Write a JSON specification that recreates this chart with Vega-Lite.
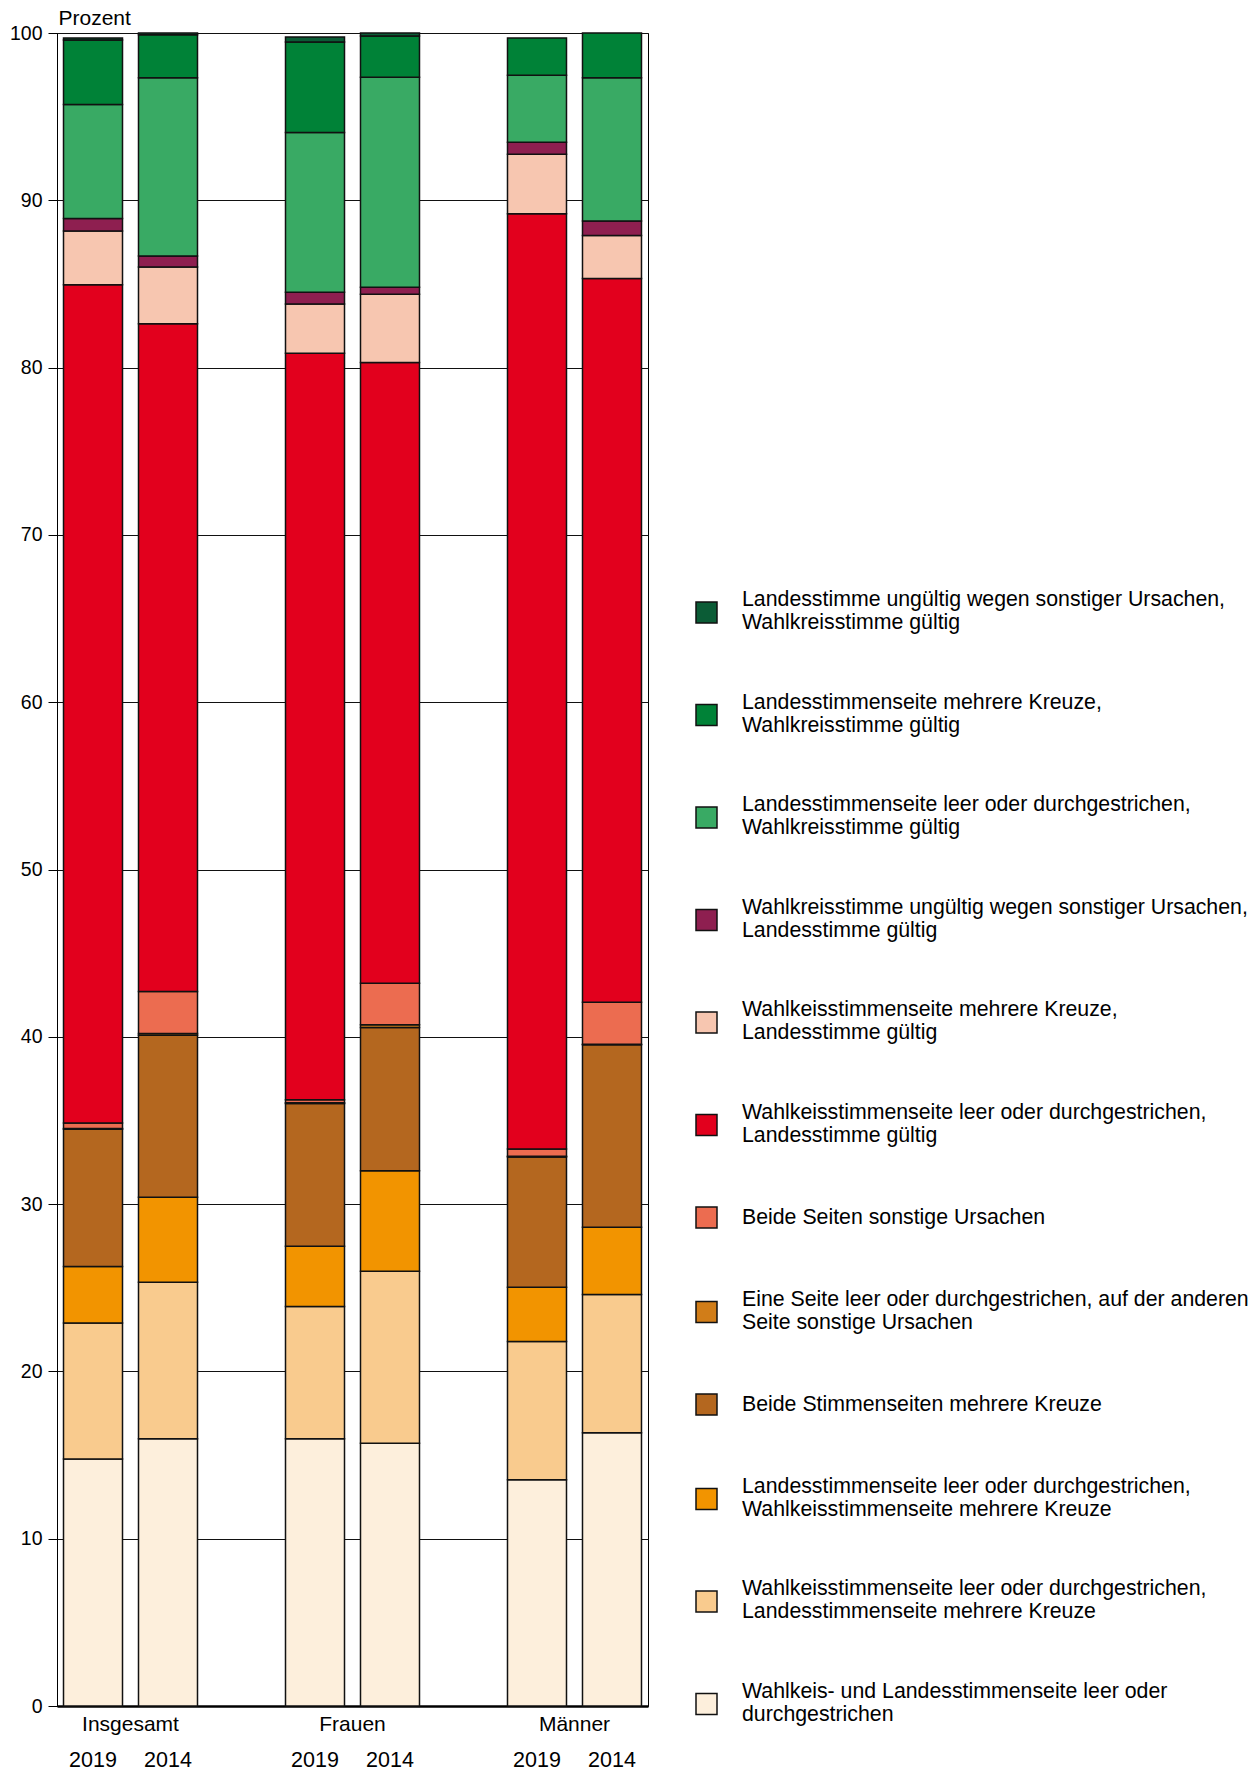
{
  "$schema": "https://vega.github.io/schema/vega-lite/v6.json",
  "autosize": {"type": "none"},
  "padding": {"left": 57, "top": 33, "right": 611, "bottom": 65},
  "width": 591,
  "height": 1673,
  "background": "white",
  "config": {
    "font": "Liberation Sans",
    "view": {"stroke": "#000", "strokeWidth": 1}
  },
  "datasets": {
    "werte": [
      {"Gruppe": "Insgesamt", "Jahr": "2019", "Stufe": 1, "Art": "Wahlkeis- und Landesstimmenseite leer oder durchgestrichen", "Prozent": 14.77},
      {"Gruppe": "Insgesamt", "Jahr": "2019", "Stufe": 2, "Art": "Wahlkeisstimmenseite leer oder durchgestrichen, Landesstimmenseite mehrere Kreuze", "Prozent": 8.12},
      {"Gruppe": "Insgesamt", "Jahr": "2019", "Stufe": 3, "Art": "Landesstimmenseite leer oder durchgestrichen, Wahlkeisstimmenseite mehrere Kreuze", "Prozent": 3.38},
      {"Gruppe": "Insgesamt", "Jahr": "2019", "Stufe": 4, "Art": "Beide Stimmenseiten mehrere Kreuze", "Prozent": 8.2},
      {"Gruppe": "Insgesamt", "Jahr": "2019", "Stufe": 5, "Art": "Eine Seite leer oder durchgestrichen, auf der anderen Seite sonstige Ursachen", "Prozent": 0.05},
      {"Gruppe": "Insgesamt", "Jahr": "2019", "Stufe": 6, "Art": "Beide Seiten sonstige Ursachen", "Prozent": 0.33},
      {"Gruppe": "Insgesamt", "Jahr": "2019", "Stufe": 7, "Art": "Wahlkeisstimmenseite leer oder durchgestrichen, Landesstimme gültig", "Prozent": 50.1},
      {"Gruppe": "Insgesamt", "Jahr": "2019", "Stufe": 8, "Art": "Wahlkeisstimmenseite mehrere Kreuze, Landesstimme gültig", "Prozent": 3.22},
      {"Gruppe": "Insgesamt", "Jahr": "2019", "Stufe": 9, "Art": "Wahlkreisstimme ungültig wegen sonstiger Ursachen, Landesstimme gültig", "Prozent": 0.74},
      {"Gruppe": "Insgesamt", "Jahr": "2019", "Stufe": 10, "Art": "Landesstimmenseite leer oder durchgestrichen, Wahlkreisstimme gültig", "Prozent": 6.82},
      {"Gruppe": "Insgesamt", "Jahr": "2019", "Stufe": 11, "Art": "Landesstimmenseite mehrere Kreuze, Wahlkreisstimme gültig", "Prozent": 3.85},
      {"Gruppe": "Insgesamt", "Jahr": "2019", "Stufe": 12, "Art": "Landesstimme ungültig wegen sonstiger Ursachen, Wahlkreisstimme gültig", "Prozent": 0.12},

      {"Gruppe": "Insgesamt", "Jahr": "2014", "Stufe": 1, "Art": "Wahlkeis- und Landesstimmenseite leer oder durchgestrichen", "Prozent": 15.97},
      {"Gruppe": "Insgesamt", "Jahr": "2014", "Stufe": 2, "Art": "Wahlkeisstimmenseite leer oder durchgestrichen, Landesstimmenseite mehrere Kreuze", "Prozent": 9.36},
      {"Gruppe": "Insgesamt", "Jahr": "2014", "Stufe": 3, "Art": "Landesstimmenseite leer oder durchgestrichen, Wahlkeisstimmenseite mehrere Kreuze", "Prozent": 5.08},
      {"Gruppe": "Insgesamt", "Jahr": "2014", "Stufe": 4, "Art": "Beide Stimmenseiten mehrere Kreuze", "Prozent": 9.69},
      {"Gruppe": "Insgesamt", "Jahr": "2014", "Stufe": 5, "Art": "Eine Seite leer oder durchgestrichen, auf der anderen Seite sonstige Ursachen", "Prozent": 0.1},
      {"Gruppe": "Insgesamt", "Jahr": "2014", "Stufe": 6, "Art": "Beide Seiten sonstige Ursachen", "Prozent": 2.51},
      {"Gruppe": "Insgesamt", "Jahr": "2014", "Stufe": 7, "Art": "Wahlkeisstimmenseite leer oder durchgestrichen, Landesstimme gültig", "Prozent": 39.91},
      {"Gruppe": "Insgesamt", "Jahr": "2014", "Stufe": 8, "Art": "Wahlkeisstimmenseite mehrere Kreuze, Landesstimme gültig", "Prozent": 3.39},
      {"Gruppe": "Insgesamt", "Jahr": "2014", "Stufe": 9, "Art": "Wahlkreisstimme ungültig wegen sonstiger Ursachen, Landesstimme gültig", "Prozent": 0.66},
      {"Gruppe": "Insgesamt", "Jahr": "2014", "Stufe": 10, "Art": "Landesstimmenseite leer oder durchgestrichen, Wahlkreisstimme gültig", "Prozent": 10.65},
      {"Gruppe": "Insgesamt", "Jahr": "2014", "Stufe": 11, "Art": "Landesstimmenseite mehrere Kreuze, Wahlkreisstimme gültig", "Prozent": 2.58},
      {"Gruppe": "Insgesamt", "Jahr": "2014", "Stufe": 12, "Art": "Landesstimme ungültig wegen sonstiger Ursachen, Wahlkreisstimme gültig", "Prozent": 0.1},

      {"Gruppe": "Frauen", "Jahr": "2019", "Stufe": 1, "Art": "Wahlkeis- und Landesstimmenseite leer oder durchgestrichen", "Prozent": 15.97},
      {"Gruppe": "Frauen", "Jahr": "2019", "Stufe": 2, "Art": "Wahlkeisstimmenseite leer oder durchgestrichen, Landesstimmenseite mehrere Kreuze", "Prozent": 7.91},
      {"Gruppe": "Frauen", "Jahr": "2019", "Stufe": 3, "Art": "Landesstimmenseite leer oder durchgestrichen, Wahlkeisstimmenseite mehrere Kreuze", "Prozent": 3.6},
      {"Gruppe": "Frauen", "Jahr": "2019", "Stufe": 4, "Art": "Beide Stimmenseiten mehrere Kreuze", "Prozent": 8.54},
      {"Gruppe": "Frauen", "Jahr": "2019", "Stufe": 5, "Art": "Eine Seite leer oder durchgestrichen, auf der anderen Seite sonstige Ursachen", "Prozent": 0.04},
      {"Gruppe": "Frauen", "Jahr": "2019", "Stufe": 6, "Art": "Beide Seiten sonstige Ursachen", "Prozent": 0.18},
      {"Gruppe": "Frauen", "Jahr": "2019", "Stufe": 7, "Art": "Wahlkeisstimmenseite leer oder durchgestrichen, Landesstimme gültig", "Prozent": 44.62},
      {"Gruppe": "Frauen", "Jahr": "2019", "Stufe": 8, "Art": "Wahlkeisstimmenseite mehrere Kreuze, Landesstimme gültig", "Prozent": 2.94},
      {"Gruppe": "Frauen", "Jahr": "2019", "Stufe": 9, "Art": "Wahlkreisstimme ungültig wegen sonstiger Ursachen, Landesstimme gültig", "Prozent": 0.7},
      {"Gruppe": "Frauen", "Jahr": "2019", "Stufe": 10, "Art": "Landesstimmenseite leer oder durchgestrichen, Wahlkreisstimme gültig", "Prozent": 9.55},
      {"Gruppe": "Frauen", "Jahr": "2019", "Stufe": 11, "Art": "Landesstimmenseite mehrere Kreuze, Wahlkreisstimme gültig", "Prozent": 5.41},
      {"Gruppe": "Frauen", "Jahr": "2019", "Stufe": 12, "Art": "Landesstimme ungültig wegen sonstiger Ursachen, Wahlkreisstimme gültig", "Prozent": 0.3},

      {"Gruppe": "Frauen", "Jahr": "2014", "Stufe": 1, "Art": "Wahlkeis- und Landesstimmenseite leer oder durchgestrichen", "Prozent": 15.71},
      {"Gruppe": "Frauen", "Jahr": "2014", "Stufe": 2, "Art": "Wahlkeisstimmenseite leer oder durchgestrichen, Landesstimmenseite mehrere Kreuze", "Prozent": 10.28},
      {"Gruppe": "Frauen", "Jahr": "2014", "Stufe": 3, "Art": "Landesstimmenseite leer oder durchgestrichen, Wahlkeisstimmenseite mehrere Kreuze", "Prozent": 6.01},
      {"Gruppe": "Frauen", "Jahr": "2014", "Stufe": 4, "Art": "Beide Stimmenseiten mehrere Kreuze", "Prozent": 8.56},
      {"Gruppe": "Frauen", "Jahr": "2014", "Stufe": 5, "Art": "Eine Seite leer oder durchgestrichen, auf der anderen Seite sonstige Ursachen", "Prozent": 0.16},
      {"Gruppe": "Frauen", "Jahr": "2014", "Stufe": 6, "Art": "Beide Seiten sonstige Ursachen", "Prozent": 2.48},
      {"Gruppe": "Frauen", "Jahr": "2014", "Stufe": 7, "Art": "Wahlkeisstimmenseite leer oder durchgestrichen, Landesstimme gültig", "Prozent": 37.1},
      {"Gruppe": "Frauen", "Jahr": "2014", "Stufe": 8, "Art": "Wahlkeisstimmenseite mehrere Kreuze, Landesstimme gültig", "Prozent": 4.08},
      {"Gruppe": "Frauen", "Jahr": "2014", "Stufe": 9, "Art": "Wahlkreisstimme ungültig wegen sonstiger Ursachen, Landesstimme gültig", "Prozent": 0.42},
      {"Gruppe": "Frauen", "Jahr": "2014", "Stufe": 10, "Art": "Landesstimmenseite leer oder durchgestrichen, Wahlkreisstimme gültig", "Prozent": 12.56},
      {"Gruppe": "Frauen", "Jahr": "2014", "Stufe": 11, "Art": "Landesstimmenseite mehrere Kreuze, Wahlkreisstimme gültig", "Prozent": 2.46},
      {"Gruppe": "Frauen", "Jahr": "2014", "Stufe": 12, "Art": "Landesstimme ungültig wegen sonstiger Ursachen, Wahlkreisstimme gültig", "Prozent": 0.18},

      {"Gruppe": "Männer", "Jahr": "2019", "Stufe": 1, "Art": "Wahlkeis- und Landesstimmenseite leer oder durchgestrichen", "Prozent": 13.53},
      {"Gruppe": "Männer", "Jahr": "2019", "Stufe": 2, "Art": "Wahlkeisstimmenseite leer oder durchgestrichen, Landesstimmenseite mehrere Kreuze", "Prozent": 8.26},
      {"Gruppe": "Männer", "Jahr": "2019", "Stufe": 3, "Art": "Landesstimmenseite leer oder durchgestrichen, Wahlkeisstimmenseite mehrere Kreuze", "Prozent": 3.24},
      {"Gruppe": "Männer", "Jahr": "2019", "Stufe": 4, "Art": "Beide Stimmenseiten mehrere Kreuze", "Prozent": 7.79},
      {"Gruppe": "Männer", "Jahr": "2019", "Stufe": 5, "Art": "Eine Seite leer oder durchgestrichen, auf der anderen Seite sonstige Ursachen", "Prozent": 0.04},
      {"Gruppe": "Männer", "Jahr": "2019", "Stufe": 6, "Art": "Beide Seiten sonstige Ursachen", "Prozent": 0.43},
      {"Gruppe": "Männer", "Jahr": "2019", "Stufe": 7, "Art": "Wahlkeisstimmenseite leer oder durchgestrichen, Landesstimme gültig", "Prozent": 55.91},
      {"Gruppe": "Männer", "Jahr": "2019", "Stufe": 8, "Art": "Wahlkeisstimmenseite mehrere Kreuze, Landesstimme gültig", "Prozent": 3.56},
      {"Gruppe": "Männer", "Jahr": "2019", "Stufe": 9, "Art": "Wahlkreisstimme ungültig wegen sonstiger Ursachen, Landesstimme gültig", "Prozent": 0.71},
      {"Gruppe": "Männer", "Jahr": "2019", "Stufe": 10, "Art": "Landesstimmenseite leer oder durchgestrichen, Wahlkreisstimme gültig", "Prozent": 4.01},
      {"Gruppe": "Männer", "Jahr": "2019", "Stufe": 11, "Art": "Landesstimmenseite mehrere Kreuze, Wahlkreisstimme gültig", "Prozent": 2.22},

      {"Gruppe": "Männer", "Jahr": "2014", "Stufe": 1, "Art": "Wahlkeis- und Landesstimmenseite leer oder durchgestrichen", "Prozent": 16.33},
      {"Gruppe": "Männer", "Jahr": "2014", "Stufe": 2, "Art": "Wahlkeisstimmenseite leer oder durchgestrichen, Landesstimmenseite mehrere Kreuze", "Prozent": 8.27},
      {"Gruppe": "Männer", "Jahr": "2014", "Stufe": 3, "Art": "Landesstimmenseite leer oder durchgestrichen, Wahlkeisstimmenseite mehrere Kreuze", "Prozent": 4.02},
      {"Gruppe": "Männer", "Jahr": "2014", "Stufe": 4, "Art": "Beide Stimmenseiten mehrere Kreuze", "Prozent": 10.9},
      {"Gruppe": "Männer", "Jahr": "2014", "Stufe": 5, "Art": "Eine Seite leer oder durchgestrichen, auf der anderen Seite sonstige Ursachen", "Prozent": 0.03},
      {"Gruppe": "Männer", "Jahr": "2014", "Stufe": 6, "Art": "Beide Seiten sonstige Ursachen", "Prozent": 2.52},
      {"Gruppe": "Männer", "Jahr": "2014", "Stufe": 7, "Art": "Wahlkeisstimmenseite leer oder durchgestrichen, Landesstimme gültig", "Prozent": 43.25},
      {"Gruppe": "Männer", "Jahr": "2014", "Stufe": 8, "Art": "Wahlkeisstimmenseite mehrere Kreuze, Landesstimme gültig", "Prozent": 2.58},
      {"Gruppe": "Männer", "Jahr": "2014", "Stufe": 9, "Art": "Wahlkreisstimme ungültig wegen sonstiger Ursachen, Landesstimme gültig", "Prozent": 0.87},
      {"Gruppe": "Männer", "Jahr": "2014", "Stufe": 10, "Art": "Landesstimmenseite leer oder durchgestrichen, Wahlkreisstimme gültig", "Prozent": 8.55},
      {"Gruppe": "Männer", "Jahr": "2014", "Stufe": 11, "Art": "Landesstimmenseite mehrere Kreuze, Wahlkreisstimme gültig", "Prozent": 2.68}
    ],
    "jahre": [
      {"Gruppe": "Insgesamt", "Jahr": "2019"},
      {"Gruppe": "Insgesamt", "Jahr": "2014"},
      {"Gruppe": "Frauen", "Jahr": "2019"},
      {"Gruppe": "Frauen", "Jahr": "2014"},
      {"Gruppe": "Männer", "Jahr": "2019"},
      {"Gruppe": "Männer", "Jahr": "2014"}
    ]
  },
  "layer": [
    {
      "data": {"name": "werte"},
      "mark": {"type": "bar", "stroke": "#111", "strokeWidth": 1.5},
      "encoding": {
        "x": {
          "field": "Gruppe", "type": "nominal",
          "sort": ["Insgesamt", "Frauen", "Männer"],
          "scale": {"paddingInner": 0.3964, "paddingOuter": 0.0293},
          "axis": {"title": null, "ticks": false, "labelAngle": 0, "domainWidth": 2.5, "domainColor": "#000", "labelFontSize": 21, "labelColor": "#000", "labelPadding": 7, "grid": false}
        },
        "xOffset": {
          "field": "Jahr", "type": "nominal",
          "sort": ["2019", "2014"],
          "scale": {"paddingInner": 0.2133, "paddingOuter": 0}
        },
        "y": {
          "field": "Prozent", "type": "quantitative", "stack": "zero",
          "scale": {"domain": [0, 100], "nice": false},
          "axis": {
            "title": "Prozent", "titleAngle": 0, "titleAlign": "left", "titleBaseline": "alphabetic",
            "titleX": 1, "titleY": -9, "titleFontSize": 21, "titleFontWeight": "normal", "titleColor": "#000",
            "values": [0, 10, 20, 30, 40, 50, 60, 70, 80, 90, 100],
            "labelFontSize": 19.5, "labelColor": "#000", "labelPadding": 6,
            "tickSize": 9, "tickColor": "#000", "domainColor": "#000",
            "grid": true, "gridColor": "#111", "gridWidth": 1
          }
        },
        "color": {
          "field": "Art", "type": "nominal",
          "scale": {
            "domain": [
              "Landesstimme ungültig wegen sonstiger Ursachen, Wahlkreisstimme gültig",
              "Landesstimmenseite mehrere Kreuze, Wahlkreisstimme gültig",
              "Landesstimmenseite leer oder durchgestrichen, Wahlkreisstimme gültig",
              "Wahlkreisstimme ungültig wegen sonstiger Ursachen, Landesstimme gültig",
              "Wahlkeisstimmenseite mehrere Kreuze, Landesstimme gültig",
              "Wahlkeisstimmenseite leer oder durchgestrichen, Landesstimme gültig",
              "Beide Seiten sonstige Ursachen",
              "Eine Seite leer oder durchgestrichen, auf der anderen Seite sonstige Ursachen",
              "Beide Stimmenseiten mehrere Kreuze",
              "Landesstimmenseite leer oder durchgestrichen, Wahlkeisstimmenseite mehrere Kreuze",
              "Wahlkeisstimmenseite leer oder durchgestrichen, Landesstimmenseite mehrere Kreuze",
              "Wahlkeis- und Landesstimmenseite leer oder durchgestrichen"
            ],
            "range": ["#0b5c36", "#008237", "#39aa64", "#8e1f50", "#f7c6b0", "#e2001d", "#ec6c50", "#d17d18", "#b4671f", "#f29400", "#f9cb8e", "#fdefdc"]
          },
          "legend": {
            "title": null, "orient": "none", "legendX": 638, "legendY": 568, "padding": 0,
            "symbolType": "square", "symbolSize": 441, "symbolStrokeColor": "#111", "symbolStrokeWidth": 1.5, "symbolOpacity": 1,
            "labelFontSize": 21.3, "labelLineHeight": 25, "labelOffset": 24, "labelLimit": 700, "labelColor": "#000",
            "rowPadding": 57.5,
            "labelExpr": "datum.label == 'Eine Seite leer oder durchgestrichen, auf der anderen Seite sonstige Ursachen' ? ['Eine Seite leer oder durchgestrichen, auf der anderen', 'Seite sonstige Ursachen'] : datum.label == 'Wahlkeis- und Landesstimmenseite leer oder durchgestrichen' ? ['Wahlkeis- und Landesstimmenseite leer oder', 'durchgestrichen'] : indexof(datum.label, ', ') > 0 ? [slice(datum.label, 0, indexof(datum.label, ', ') + 1), slice(datum.label, indexof(datum.label, ', ') + 2)] : datum.label",
            "encode": {
              "labels": {
                "update": {
                  "dy": {"signal": "datum.value == 'Beide Seiten sonstige Ursachen' || datum.value == 'Beide Stimmenseiten mehrere Kreuze' ? 0 : -12.5"}
                }
              }
            }
          }
        },
        "order": {"field": "Stufe", "type": "quantitative"}
      }
    },
    {
      "data": {"name": "jahre"},
      "mark": {"type": "text", "fontSize": 21.5, "baseline": "middle", "align": "center", "color": "#000"},
      "encoding": {
        "x": {"field": "Gruppe", "type": "nominal", "sort": ["Insgesamt", "Frauen", "Männer"]},
        "xOffset": {"field": "Jahr", "type": "nominal", "sort": ["2019", "2014"]},
        "y": {"datum": -3.26},
        "text": {"field": "Jahr"}
      }
    }
  ]
}
